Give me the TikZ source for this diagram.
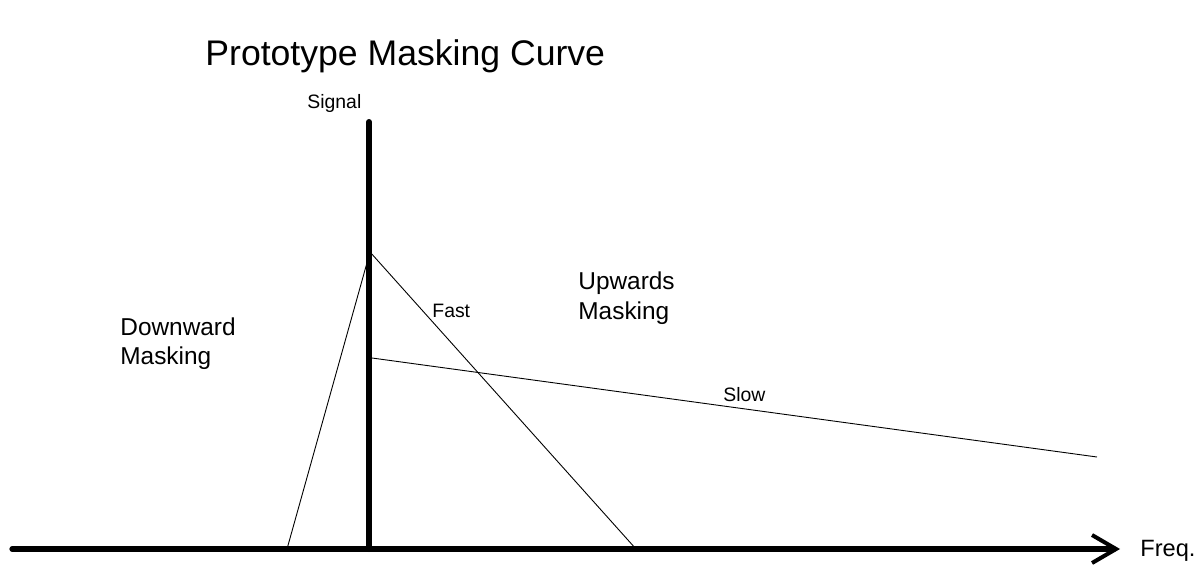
\documentclass[tikz,border=0pt]{standalone}
\usepackage{fontspec}
\setmainfont{Liberation Sans}
\usetikzlibrary{arrows.meta}
\begin{document}
\begin{tikzpicture}[x=0.5pt,y=-0.5pt,
  thick axis/.style={line width=2.6pt,line cap=round},
  thin curve/.style={line width=0.45pt},
  lbl/.style={inner sep=0pt,anchor=base west,font=\fontsize{9.7}{11}\selectfont},
  big/.style={inner sep=0pt,anchor=base west,align=left,font=\fontsize{12.2}{14}\selectfont}]
\useasboundingbox (0,0) rectangle (1197,567);
% coordinates
\coordinate (ax0) at (12,549);
\coordinate (ax1) at (1120,549);
\coordinate (sigtop) at (369,122);
\coordinate (sigbot) at (369,549);
\coordinate (peak) at (370,252);
\coordinate (dwn) at (287,549);
\coordinate (fastend) at (636,549);
\coordinate (slow0) at (372,358);
\coordinate (slow1) at (1097,457);
% axes
\draw[thick axis,-{Straight Barb[length=12pt,width=14pt,line width=2pt]}] (ax0) -- (ax1);
\draw[line width=3pt,line cap=round] (sigtop) -- (sigbot);
% masking lines
\draw[thin curve] (dwn) -- (peak);
\draw[thin curve] (peak) -- (fastend);
\draw[thin curve] (slow0) -- (slow1);
% labels
\node[inner sep=0pt,anchor=base west,font=\fontsize{17.8}{20}\selectfont] (title) at (205,66) {Prototype Masking Curve};
\node[lbl] (signal) at (307,109) {Signal};
\node[lbl] (fast) at (432,317) {Fast};
\node[lbl] (slow) at (723,401) {Slow};
\node[big] (down) at (120,364) {Downward\\[0.2pt]Masking};
\node[big] (up) at (578,319) {Upwards\\[0.6pt]Masking};
\node[inner sep=0pt,anchor=base west,font=\fontsize{11.8}{14}\selectfont] (freq) at (1140,556) {Freq.};
\end{tikzpicture}
\end{document}
